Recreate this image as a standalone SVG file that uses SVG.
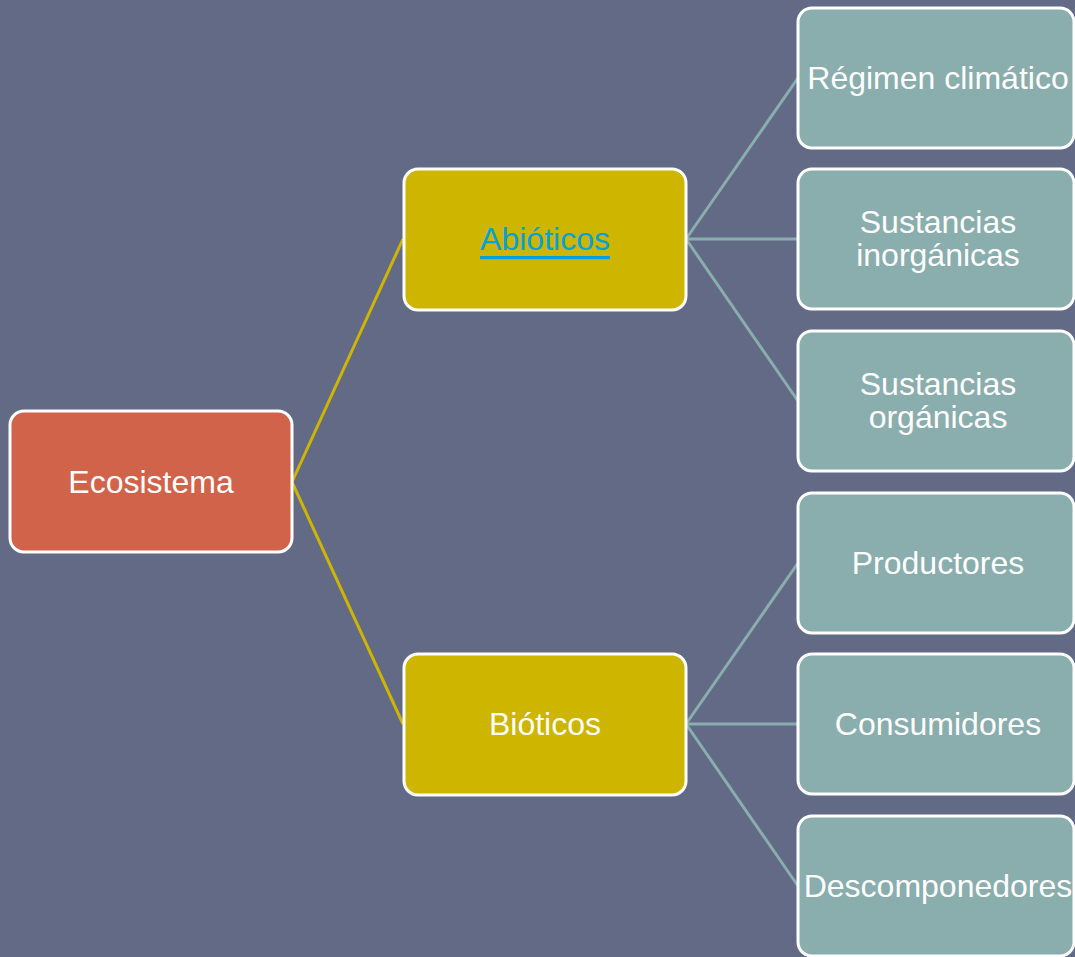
<svg xmlns="http://www.w3.org/2000/svg" width="1075" height="957" viewBox="0 0 1075 957">
<style>
.bg{fill:#636A86}
.box{stroke:#FFFFFF;stroke-width:3}
.root{fill:#D1634A}
.mid{fill:#CDB500}
.leaf{fill:#8AADAD}
text{font-family:"Liberation Sans",Arial,sans-serif;font-size:32px;fill:#FFFFFF;text-anchor:middle;dominant-baseline:central}
.link{fill:#00A2D9;text-decoration:underline}
.cy{stroke:#CDB500;stroke-width:3;fill:none}
.ct{stroke:#8AADAD;stroke-width:3;fill:none}
</style>
<rect class="bg" x="0" y="0" width="1075" height="957"/>
<g id="connectors">
<path class="cy" d="M292,482 L403,239"/>
<path class="cy" d="M292,482 L403,724"/>
<path class="ct" d="M686,239 L798,78"/>
<path class="ct" d="M686,239 L798,239"/>
<path class="ct" d="M686,239 L798,401"/>
<path class="ct" d="M686,724 L798,563"/>
<path class="ct" d="M686,724 L798,724"/>
<path class="ct" d="M686,724 L798,886"/>
</g>
<g id="ecosistema"><rect class="box root" x="10" y="411" width="282" height="141" rx="14"/><text x="151" y="482">Ecosistema</text></g>
<g id="abioticos"><rect class="box mid" x="404" y="169" width="282" height="141" rx="14"/><text class="link" x="545" y="239">Abióticos</text></g>
<g id="bioticos"><rect class="box mid" x="404" y="654" width="282" height="141" rx="14"/><text x="545" y="724">Bióticos</text></g>
<g id="regimen"><rect class="box leaf" x="798" y="8" width="276" height="140" rx="14"/><text x="938" y="78">Régimen climático</text></g>
<g id="inorganicas"><rect class="box leaf" x="798" y="169" width="276" height="140" rx="14"/><text x="938" y="222">Sustancias</text><text x="938" y="255">inorgánicas</text></g>
<g id="organicas"><rect class="box leaf" x="798" y="331" width="276" height="140" rx="14"/><text x="938" y="384">Sustancias</text><text x="938" y="417">orgánicas</text></g>
<g id="productores"><rect class="box leaf" x="798" y="493" width="276" height="140" rx="14"/><text x="938" y="563">Productores</text></g>
<g id="consumidores"><rect class="box leaf" x="798" y="654" width="276" height="140" rx="14"/><text x="938" y="724">Consumidores</text></g>
<g id="descomponedores"><rect class="box leaf" x="798" y="816" width="276" height="140" rx="14"/><text x="938" y="886">Descomponedores</text></g>
</svg>
